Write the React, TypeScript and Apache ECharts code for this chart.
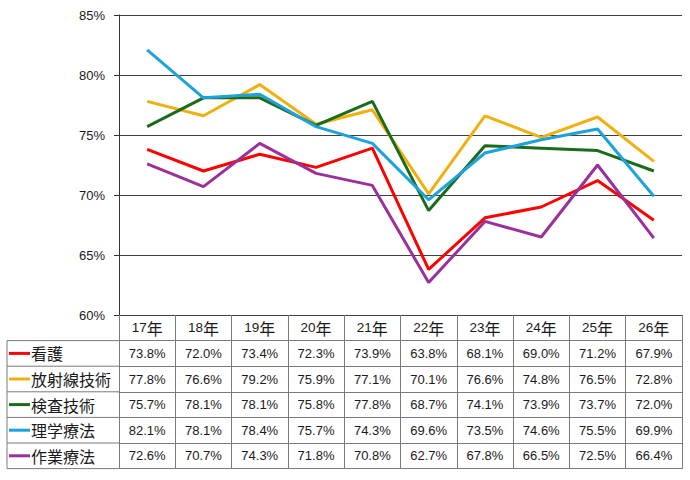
import React, { useEffect, useRef } from "react";
import * as echarts from "echarts";

// ---- data ----
const categories = ["17年", "18年", "19年", "20年", "21年", "22年", "23年", "24年", "25年", "26年"];
const seriesNames = ["看護", "放射線技術", "検査技術", "理学療法", "作業療法"];
const nursing = [73.8, 72.0, 73.4, 72.3, 73.9, 63.8, 68.1, 69.0, 71.2, 67.9];
const radiology = [77.8, 76.6, 79.2, 75.9, 77.1, 70.1, 76.6, 74.8, 76.5, 72.8];
const laboratory = [75.7, 78.1, 78.1, 75.8, 77.8, 68.7, 74.1, 73.9, 73.7, 72.0];
const physicalTherapy = [82.1, 78.1, 78.4, 75.7, 74.3, 69.6, 73.5, 74.6, 75.5, 69.9];
const occupationalTherapy = [72.6, 70.7, 74.3, 71.8, 70.8, 62.7, 67.8, 66.5, 72.5, 66.4];
const yMin = 60;
const yMax = 85;
const yInterval = 5;

const seriesValues = [nursing, radiology, laboratory, physicalTherapy, occupationalTherapy];
const seriesColors = ["#ff0000", "#f0b00f", "#1c6b1c", "#1ca2dc", "#9b309b"];

// ---- layout ----
const W = 690;
const H = 480;
const GRID_LEFT = 119;
const GRID_TOP = 15;
const GRID_RIGHT = 682;
const GRID_BOTTOM = 315;
const ROW_H = 25.6;
const TABLE_LEFT = 7;
const LINE_COLOR = "#7a7a7a";
const GRID_COLOR = "#404040";
const TEXT_COLOR = "#1a1a1a";
const NUM_FONT = "'Liberation Sans', Arial, sans-serif";
const CJK_FONT = "'Noto Sans CJK JP', sans-serif";

export default function App() {
  const ref = useRef<HTMLDivElement>(null);

  useEffect(() => {
    if (!ref.current) return;
    const chart = echarts.init(ref.current, undefined, { renderer: "svg" });

    const rowCount = seriesValues.length + 1; // header + series rows
    const offsets: number[] = [];
    for (let k = 0; k <= rowCount; k++) offsets.push(Math.round(k * ROW_H * 10) / 10);

    const xAxes: any[] = [];
    for (let k = 0; k <= rowCount; k++) {
      const isLast = k === rowCount;
      const rowH = isLast ? 0 : offsets[k + 1] - offsets[k];
      xAxes.push({
        type: "category",
        gridIndex: 0,
        position: "bottom",
        offset: offsets[k],
        data: categories,
        boundaryGap: true,
        axisLine: { show: true, lineStyle: { color: k === 0 ? GRID_COLOR : LINE_COLOR, width: 1 } },
        axisTick: {
          show: !isLast,
          interval: 0,
          length: rowH,
          lineStyle: { color: LINE_COLOR, width: 1 },
        },
        splitLine: { show: false },
        axisLabel: {
          show: !isLast,
          interval: 0,
          margin: rowH / 2,
          verticalAlign: "middle",
          color: TEXT_COLOR,
          fontFamily: NUM_FONT,
          fontSize: 13,
          formatter:
            k === 0
              ? (v: string) => {
                  const m = v.match(/^(\d+)(.*)$/);
                  return m ? `{d|${m[1]}}{c|${m[2]}}` : v;
                }
              : (_v: string, i: number) => seriesValues[k - 1][i].toFixed(1) + "%",
          rich: {
            d: { fontFamily: NUM_FONT, fontSize: 13.5, color: TEXT_COLOR },
            c: { fontFamily: CJK_FONT, fontSize: 16, color: TEXT_COLOR },
          },
        },
      });
    }

    // legend column of the data table
    const graphics: any[] = [];
    const legendTop = GRID_BOTTOM + offsets[1];
    const legendBottom = GRID_BOTTOM + offsets[rowCount];
    graphics.push({
      type: "line",
      shape: { x1: TABLE_LEFT, y1: legendTop, x2: TABLE_LEFT, y2: legendBottom },
      style: { stroke: LINE_COLOR, lineWidth: 1 },
    });
    for (let k = 1; k <= rowCount; k++) {
      const y = GRID_BOTTOM + offsets[k];
      graphics.push({
        type: "line",
        shape: { x1: TABLE_LEFT, y1: y, x2: GRID_LEFT, y2: y },
        style: { stroke: LINE_COLOR, lineWidth: 1 },
      });
    }
    seriesNames.forEach((name, i) => {
      const yc = GRID_BOTTOM + (offsets[i + 1] + offsets[i + 2]) / 2;
      graphics.push({
        type: "line",
        shape: { x1: TABLE_LEFT + 2, y1: yc, x2: TABLE_LEFT + 23, y2: yc },
        style: { stroke: seriesColors[i], lineWidth: 3 },
      });
      graphics.push({
        type: "text",
        x: TABLE_LEFT + 24,
        y: yc,
        style: {
          text: name,
          fill: TEXT_COLOR,
          font: `16px ${CJK_FONT}`,
          verticalAlign: "middle",
          align: "left",
        },
      });
    });

    chart.setOption({
      animation: false,
      backgroundColor: "#ffffff",
      grid: {
        left: GRID_LEFT,
        top: GRID_TOP,
        width: GRID_RIGHT - GRID_LEFT,
        height: GRID_BOTTOM - GRID_TOP,
        containLabel: false,
      },
      xAxis: xAxes,
      yAxis: {
        type: "value",
        min: yMin,
        max: yMax,
        interval: yInterval,
        axisLine: { show: true, lineStyle: { color: "#333333", width: 1 } },
        axisTick: { show: true, length: 5, lineStyle: { color: "#333333" } },
        splitLine: { show: true, lineStyle: { color: GRID_COLOR, width: 1 } },
        axisLabel: {
          margin: 14,
          color: TEXT_COLOR,
          fontFamily: NUM_FONT,
          fontSize: 13,
          formatter: (v: number) => `${v}%`,
        },
      },
      series: seriesNames.map((name, i) => ({
        name,
        type: "line",
        xAxisIndex: 0,
        yAxisIndex: 0,
        data: seriesValues[i],
        symbol: "none",
        lineStyle: { color: seriesColors[i], width: 3 },
        itemStyle: { color: seriesColors[i] },
        z: 3,
      })),
      graphic: graphics,
    });

    return () => chart.dispose();
  }, []);

  return (
    <div
      ref={ref}
      style={{ position: "fixed", left: 0, top: 0, width: W, height: H, background: "#fff" }}
    />
  );
}
